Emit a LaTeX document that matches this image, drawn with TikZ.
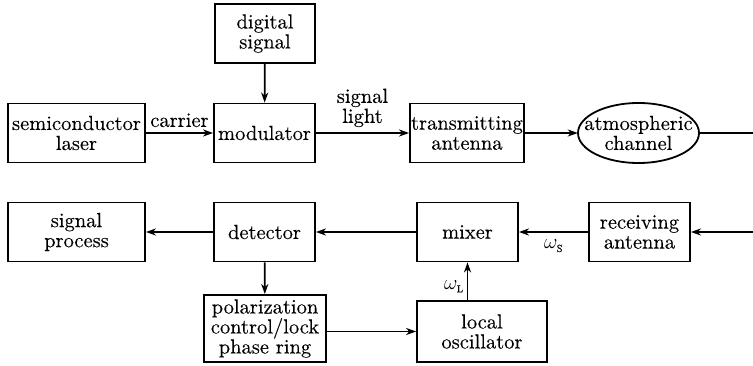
\documentclass[tikz,border=0pt]{standalone}
\usepackage{fontspec}
\setmainfont{lmroman10-regular.otf}[FakeBold=0.15]
\usetikzlibrary{arrows.meta}
\begin{document}
\begin{tikzpicture}[x=1pt,y=-1pt,
  font=\fontsize{20.5}{20}\selectfont,
  every node/.style={inner sep=0pt,align=center},
  blk/.style={draw,line width=1.8pt,rectangle,minimum height=59pt},
  link/.style={line width=1.8pt,-{Stealth[length=10pt,width=7pt,inset=3pt]}},
  wire/.style={line width=1.8pt}]
\useasboundingbox (0,0) rectangle (753,366);

% transmitter chain
\node[blk,minimum width=100pt] (dig) at (265,33.5) {digital\\signal};
\node[blk,minimum width=137pt] (laser) at (76.5,133) {semiconductor\\laser};
\node[blk,minimum width=101pt] (mod) at (264.5,133) {modulator};
\node[blk,minimum width=114pt] (tx) at (467,133) {transmitting\\antenna};
\node[minimum width=121pt,minimum height=60pt] (atm) at (638.5,133) {atmospheric\\channel};
\draw[wire] (atm.center) ellipse [x radius=60.5pt, y radius=30pt];
\coordinate (outR) at (753,133);

% receiver chain
\node[blk,minimum width=137pt] (sp) at (76.5,232) {signal\\process};
\node[blk,minimum width=101pt] (det) at (264.5,232) {detector};
\node[blk,minimum width=101pt] (mix) at (467.5,232) {mixer};
\node[blk,minimum width=101pt] (rx) at (639.5,232) {receiving\\antenna};
\coordinate (inR) at (753,232);
\node[blk,minimum width=122pt,minimum height=67pt] (pol) at (265,328.5) {polarization\\control/lock\\phase ring};
\node[blk,minimum width=130pt,minimum height=61pt] (lo) at (482,331.5) {local\\oscillator};

% connectors
\draw[link] (dig) -- (mod);
\draw[link] (laser) -- node[above=5pt] {carrier} (mod);
\draw[link] (mod) -- node[above=5pt] {signal\\light} (tx);
\draw[link] (tx) -- (atm);
\draw[wire] (atm) -- (outR);

\draw[link] (inR) -- (rx);
\draw[link] (rx) -- node[below=7pt] {$\omega_{\scriptscriptstyle\mathrm{S}}$} (mix);
\draw[link] (mix) -- (det);
\draw[link] (det) -- (sp);
\draw[link] (det) -- (pol);
\draw[link] (lo.west -| pol.east) -- (lo.west);
\draw[link] (mix.south |- lo.north) -- node[left=3pt,yshift=-5pt] {$\omega_{\scriptscriptstyle\mathrm{L}}$} (mix.south);
\end{tikzpicture}
\end{document}
